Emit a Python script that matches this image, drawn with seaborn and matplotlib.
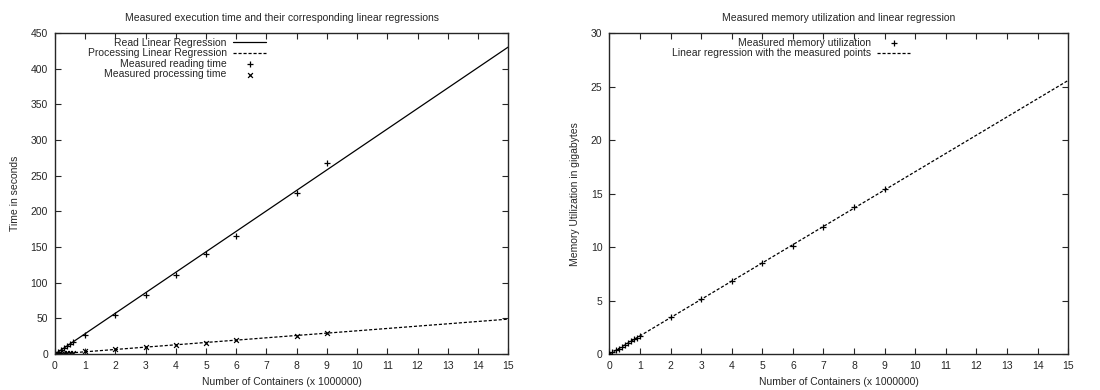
import numpy as np
import pandas as pd
import matplotlib
matplotlib.use('Agg')
import matplotlib.pyplot as plt
import seaborn as sns

# --- data ---
time_x = [0, 0.1, 0.2, 0.3, 0.4, 0.5, 0.6, 1, 2, 3, 4, 5, 6, 8, 9]
read_time = [0.5, 3, 6, 8.5, 11, 14, 16.5, 27, 55, 83, 111, 140, 165, 226, 268]
proc_time = [0.1, 0.4, 0.7, 1.0, 1.3, 1.7, 2.0, 4, 6.5, 10, 13, 16, 19.5, 26, 29.5]

mem_x = [0, 0.1, 0.2, 0.3, 0.4, 0.5, 0.6, 0.7, 0.8, 0.9, 1, 2, 3, 4, 5, 6, 7, 8, 9]
mem_gb = [0, 0.17, 0.34, 0.51, 0.68, 0.86, 1.03, 1.2, 1.37, 1.54, 1.71,
          3.45, 5.15, 6.85, 8.55, 10.15, 11.9, 13.75, 15.4]

# regression coefficients (slope, intercept)
read_fit = (28.7, 0.0)
proc_fit = (3.27, 0.0)
mem_fit = (1.705, 0.0)
fit_x = np.array([0, 15])

FS = 7.5

sns.set_style('ticks')
plt.rcParams['font.family'] = ['Liberation Sans', 'DejaVu Sans']
plt.rcParams['font.size'] = FS
plt.rcParams['xtick.direction'] = 'in'
plt.rcParams['ytick.direction'] = 'in'
plt.rcParams['xtick.top'] = True
plt.rcParams['ytick.right'] = True
plt.rcParams['xtick.major.size'] = 4
plt.rcParams['ytick.major.size'] = 4
plt.rcParams['axes.linewidth'] = 1.0

fig = plt.figure(figsize=(11, 3.9), dpi=100)
ax1 = fig.add_axes([0.05, 0.092, 0.412, 0.823])
ax2 = fig.add_axes([0.554, 0.092, 0.417, 0.823])

df_t = pd.DataFrame({'x': time_x, 'read': read_time, 'proc': proc_time})
df_fit = pd.DataFrame({'x': fit_x,
                       'read': read_fit[0] * fit_x + read_fit[1],
                       'proc': proc_fit[0] * fit_x + proc_fit[1],
                       'mem': mem_fit[0] * fit_x + mem_fit[1]})
df_m = pd.DataFrame({'x': mem_x, 'mem': mem_gb})

dash = (0, (2.5, 1.5))

# left panel
sns.lineplot(data=df_fit, x='x', y='read', ax=ax1, color='black', lw=0.9,
             label='Read Linear Regression')
sns.lineplot(data=df_fit, x='x', y='proc', ax=ax1, color='black', lw=0.9,
             linestyle=dash, label='Processing Linear Regression')
sns.scatterplot(data=df_t, x='x', y='read', ax=ax1, marker='+', color='black',
                s=20, linewidth=0.9, label='Measured reading time')
sns.scatterplot(data=df_t, x='x', y='proc', ax=ax1, marker='x', color='black',
                s=12, linewidth=0.9, label='Measured processing time')
ax1.set_xlim(0, 15)
ax1.set_ylim(0, 450)
ax1.set_xticks(range(0, 16))
ax1.set_yticks(range(0, 451, 50))
ax1.set_title('Measured execution time and their corresponding linear regressions',
              fontsize=FS, pad=9)
ax1.set_xlabel('Number of Containers (x 1000000)', fontsize=FS, labelpad=4)
ax1.set_ylabel('Time in seconds', fontsize=FS, labelpad=8)
ax1.legend(loc='upper right', bbox_to_anchor=(0.48, 1.005), frameon=False,
           markerfirst=False, handlelength=3.2, fontsize=FS, labelspacing=0.05,
           handletextpad=0.6, borderaxespad=0.2)

# right panel
sns.scatterplot(data=df_m, x='x', y='mem', ax=ax2, marker='+', color='black',
                s=20, linewidth=0.9, label='Measured memory utilization', zorder=3)
sns.lineplot(data=df_fit, x='x', y='mem', ax=ax2, color='black', lw=0.9,
             linestyle=dash, label='Linear regression with the measured points')
ax2.set_xlim(0, 15)
ax2.set_ylim(0, 30)
ax2.set_xticks(range(0, 16))
ax2.set_yticks(range(0, 31, 5))
ax2.set_title('Measured memory utilization and linear regression', fontsize=FS, pad=9)
ax2.set_xlabel('Number of Containers (x 1000000)', fontsize=FS, labelpad=4)
ax2.set_ylabel('Memory Utilization in gigabytes', fontsize=FS, labelpad=8)
ax2.legend(loc='upper right', bbox_to_anchor=(0.67, 1.005), frameon=False,
           markerfirst=False, handlelength=3.2, fontsize=FS, labelspacing=0.05,
           handletextpad=0.6, borderaxespad=0.2)

for ax in (ax1, ax2):
    ax.tick_params(labelsize=FS, width=0.8, pad=5)

fig.savefig('out.png', dpi=100)
